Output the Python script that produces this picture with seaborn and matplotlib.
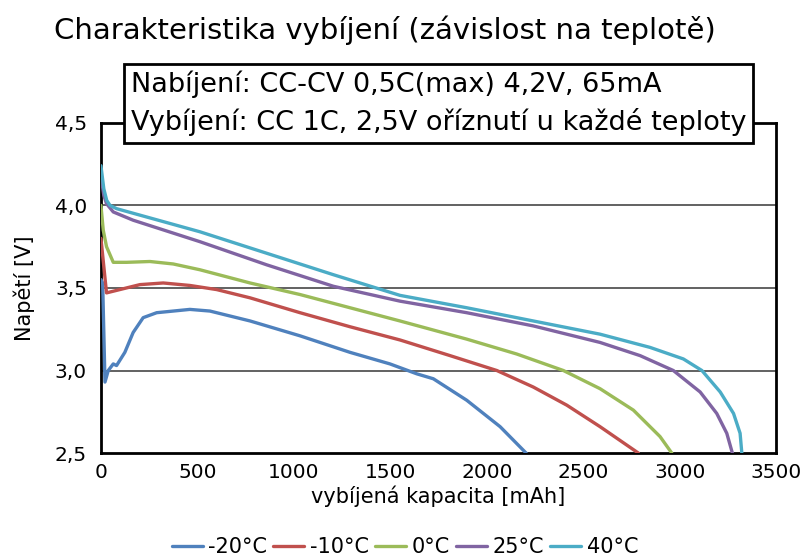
import pandas as pd
import matplotlib.pyplot as plt
import seaborn as sns

# values (capacity in mAh, voltage in V)
cap_m20 = [0, 9, 21, 38, 64, 81, 124, 167, 219, 289, 461, 565, 773, 1032, 1291, 1498,
           1637, 1723, 1896, 2069, 2204]
volt_m20 = [3.55, 3.53, 2.93, 3.00, 3.04, 3.03, 3.11, 3.23, 3.32, 3.35, 3.37, 3.36, 3.30,
            3.21, 3.11, 3.04, 2.98, 2.95, 2.82, 2.66, 2.50]

cap_m10 = [0, 29, 98, 202, 323, 461, 600, 773, 1032, 1291, 1550, 1810, 2052, 2241, 2415,
           2587, 2786]
volt_m10 = [3.80, 3.47, 3.49, 3.52, 3.53, 3.515, 3.49, 3.44, 3.35, 3.265, 3.185, 3.09, 3.00,
            2.90, 2.79, 2.66, 2.50]

cap_0 = [0, 12, 29, 64, 133, 254, 375, 513, 773, 1032, 1291, 1550, 1896, 2155, 2397, 2587,
         2760, 2898, 2959]
volt_0 = [4.00, 3.85, 3.75, 3.655, 3.655, 3.66, 3.645, 3.61, 3.53, 3.46, 3.38, 3.30, 3.19,
          3.10, 3.00, 2.89, 2.76, 2.60, 2.50]

cap_25 = [0, 15, 29, 64, 167, 513, 859, 1205, 1550, 1896, 2241, 2587, 2795, 2967, 3106,
          3192, 3244, 3273]
volt_25 = [4.18, 4.06, 4.01, 3.96, 3.91, 3.78, 3.64, 3.51, 3.42, 3.35, 3.27, 3.17, 3.09,
           3.00, 2.87, 2.74, 2.62, 2.50]

cap_40 = [0, 15, 30, 47, 81, 513, 859, 1205, 1550, 1896, 2241, 2587, 2846, 3019, 3115,
          3210, 3279, 3313, 3322]
volt_40 = [4.24, 4.10, 4.03, 4.00, 3.98, 3.84, 3.71, 3.58, 3.455, 3.38, 3.30, 3.22, 3.14,
           3.07, 3.00, 2.87, 2.74, 2.62, 2.50]

temps = ['-20°C', '-10°C', '0°C', '25°C', '40°C']
colors = ['#4F81BD', '#C0504D', '#9BBB59', '#8064A2', '#4BACC6']
x_ticks = [0, 500, 1000, 1500, 2000, 2500, 3000, 3500]
y_ticks = [2.5, 3.0, 3.5, 4.0, 4.5]
y_labels = ['2,5', '3,0', '3,5', '4,0', '4,5']

series = [(cap_m20, volt_m20), (cap_m10, volt_m10), (cap_0, volt_0),
          (cap_25, volt_25), (cap_40, volt_40)]
frames = []
for t, (c, v) in zip(temps, series):
    frames.append(pd.DataFrame({'cap': c, 'volt': v, 'temp': t}))
df = pd.concat(frames, ignore_index=True)

sns.set_style('white')
plt.rcParams['font.family'] = ['DejaVu Sans']
plt.rcParams['text.color'] = 'black'
plt.rcParams['xtick.color'] = 'black'
plt.rcParams['ytick.color'] = 'black'
plt.rcParams['axes.labelcolor'] = 'black'

fig = plt.figure(figsize=(8.01, 5.58), dpi=100)
ax = fig.add_axes([0.126, 0.188, 0.843, 0.592])

for y in [3.0, 3.5, 4.0]:
    ax.axhline(y, color='#555555', lw=1.3, zorder=1)

sns.lineplot(data=df, x='cap', y='volt', hue='temp', hue_order=temps,
             palette=colors, estimator=None, sort=False, lw=2.4, ax=ax, zorder=3)

ax.set_xlim(0, 3500)
ax.set_ylim(2.5, 4.5)
ax.set_xticks(x_ticks)
ax.set_xticklabels([str(x) for x in x_ticks], fontsize=14.5)
ax.set_yticks(y_ticks)
ax.set_yticklabels(y_labels, fontsize=14.5)
ax.tick_params(axis='y', length=6, width=1.2, color='#555555', pad=4)
ax.tick_params(axis='x', length=0, pad=7)
for s in ax.spines.values():
    s.set_color('black')
    s.set_linewidth(2)

ax.set_xlabel('vybíjená kapacita [mAh]', fontsize=15, labelpad=3)
ax.set_ylabel('Napětí [V]', fontsize=15, labelpad=14)

fig.text(0.48, 0.945, 'Charakteristika vybíjení (závislost na teplotě)',
         ha='center', va='center', fontsize=21)

fig.text(0.163, 0.815, 'Nabíjení: CC-CV 0,5C(max) 4,2V, 65mA\n'
         'Vybíjení: CC 1C, 2,5V oříznutí u každé teploty',
         ha='left', va='center', fontsize=19.5, linespacing=1.45, zorder=10,
         bbox=dict(boxstyle='square,pad=0.25', fc='white', ec='black', lw=2))

ax.legend(loc='center', bbox_to_anchor=(0.45, -0.285), ncol=5, frameon=False,
          fontsize=15, handlelength=1.5, handletextpad=0.25, columnspacing=0.3)

fig.savefig('out.png', dpi=100)
